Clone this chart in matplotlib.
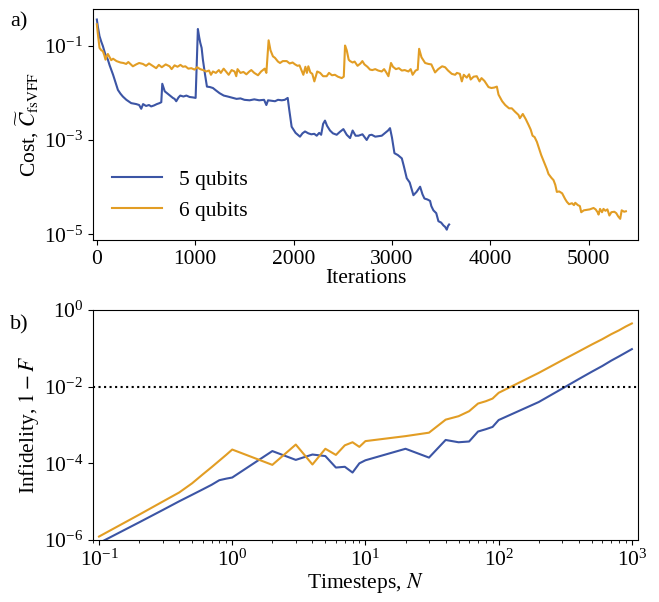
import numpy as np
import matplotlib
matplotlib.use("Agg")
import matplotlib.pyplot as plt
from matplotlib.ticker import NullLocator

plt.rcParams['font.family'] = ['Liberation Serif', 'DejaVu Serif']
plt.rcParams['mathtext.fontset'] = 'stix'
plt.rcParams['font.size'] = 15.5

BLUE = '#3C55A5'
ORANGE = '#E29D24'

# --- a) training cost vs iterations (log10 of cost) ---
iters_5q = [0, 10, 27, 45, 61, 85, 112, 130, 146, 165, 180, 200, 214, 240, 264, 300, 349, 400, 430, 451,
            470, 500, 530, 552, 580, 610, 637, 655, 665, 690, 720, 750, 773, 790, 807, 830, 848, 880, 910, 943,
            980, 1004, 1027, 1040, 1051, 1065, 1078, 1100, 1119, 1150, 1180, 1210, 1248, 1290, 1330, 1383, 1420,
            1460, 1500, 1553, 1600, 1650, 1700, 1723, 1740, 1780, 1811, 1841, 1880, 1910, 1940, 1955, 1980, 2020,
            2065, 2090, 2116, 2150, 2180, 2210, 2235, 2260, 2280, 2300, 2319, 2340, 2370, 2400, 2438, 2470, 2506,
            2540, 2574, 2600, 2630, 2659, 2700, 2743, 2770, 2794, 2830, 2860, 2896, 2930, 2960, 2980, 3000, 3025,
            3060, 3100, 3120, 3150, 3180, 3218, 3250, 3286, 3310, 3330, 3360, 3387, 3400, 3421, 3450, 3472, 3500,
            3523, 3540, 3557, 3570, 3581]
logcost_5q = [-0.45, -0.60, -0.80, -0.92, -1.01, -1.18, -1.30, -1.42, -1.51, -1.62, -1.72, -1.85, -1.94, -2.02,
              -2.08, -2.15, -2.22, -2.24, -2.26, -2.34, -2.24, -2.28, -2.26, -2.29, -2.27, -2.24, -2.22, -2.20,
              -1.81, -1.97, -2.02, -2.07, -2.11, -2.13, -2.18, -2.10, -2.06, -2.08, -2.06, -2.09, -2.10, -2.11,
              -0.65, -0.82, -0.94, -1.05, -1.30, -1.62, -1.87, -1.88, -1.90, -1.95, -2.01, -2.06, -2.08, -2.11,
              -2.13, -2.12, -2.15, -2.16, -2.14, -2.16, -2.15, -2.26, -2.16, -2.17, -2.18, -2.15, -2.16, -2.15,
              -2.11, -2.35, -2.72, -2.85, -2.93, -2.86, -2.82, -2.86, -2.88, -2.87, -2.91, -2.85, -2.89, -2.66,
              -2.59, -2.70, -2.80, -2.86, -2.89, -2.83, -2.77, -2.89, -2.96, -2.80, -2.91, -2.91, -2.88, -3.00,
              -2.90, -2.89, -2.93, -2.92, -2.91, -2.85, -2.80, -2.75, -2.95, -3.28, -3.32, -3.39, -3.55, -3.81,
              -3.90, -4.17, -4.10, -3.99, -4.15, -4.24, -4.26, -4.29, -4.40, -4.49, -4.55, -4.72, -4.75, -4.81,
              -4.84, -4.90, -4.82, -4.79]

iters_6q = [0, 10, 27, 45, 61, 75, 88, 100, 112, 130, 146, 165, 200, 240, 270, 298, 320, 345, 366, 400, 430,
            468, 500, 530, 560, 603, 630, 660, 700, 739, 760, 790, 820, 850, 875, 900, 930, 960, 993, 1020, 1050,
            1080, 1112, 1140, 1160, 1180, 1210, 1240, 1260, 1289, 1320, 1340, 1370, 1400, 1417, 1430, 1460, 1490,
            1520, 1550, 1570, 1600, 1638, 1670, 1706, 1723, 1746, 1765, 1790, 1810, 1841, 1862, 1890, 1930, 1960,
            1990, 2015, 2040, 2060, 2080, 2099, 2120, 2135, 2150, 2170, 2190, 2211, 2240, 2270, 2300, 2336, 2360,
            2390, 2420, 2450, 2489, 2510, 2523, 2540, 2560, 2574, 2600, 2620, 2650, 2680, 2699, 2720, 2750, 2777,
            2800, 2830, 2860, 2896, 2920, 2945, 2964, 2990, 3010, 3040, 3070, 3100, 3130, 3167, 3190, 3210, 3240,
            3262, 3276, 3300, 3337, 3370, 3400, 3438, 3470, 3510, 3540, 3570, 3608, 3642, 3660, 3690, 3710, 3730,
            3760, 3784, 3800, 3830, 3862, 3890, 3910, 3940, 3981, 4010, 4040, 4066, 4083, 4120, 4151, 4190, 4218,
            4250, 4286, 4300, 4330, 4360, 4388, 4410, 4429, 4450, 4473, 4490, 4517, 4540, 4558, 4575, 4591, 4620,
            4642, 4660, 4676, 4700, 4730, 4760, 4778, 4800, 4830, 4850, 4863, 4890, 4910, 4924, 4950, 4980, 5010,
            5049, 5070, 5090, 5100, 5115, 5135, 5150, 5170, 5190, 5210, 5230, 5260, 5280, 5300, 5320, 5335, 5360,
            5378]
logcost_6q = [-0.55, -0.75, -1.05, -1.10, -1.12, -1.20, -1.30, -1.22, -1.18, -1.25, -1.31, -1.28, -1.33, -1.36,
              -1.37, -1.39, -1.35, -1.40, -1.44, -1.40, -1.37, -1.39, -1.43, -1.38, -1.42, -1.48, -1.41, -1.46,
              -1.40, -1.44, -1.50, -1.42, -1.45, -1.41, -1.45, -1.44, -1.49, -1.48, -1.51, -1.46, -1.50, -1.52,
              -1.55, -1.53, -1.62, -1.55, -1.58, -1.52, -1.58, -1.49, -1.57, -1.62, -1.52, -1.55, -1.65, -1.50,
              -1.58, -1.56, -1.61, -1.55, -1.52, -1.58, -1.63, -1.55, -1.49, -1.58, -0.89, -1.10, -1.23, -1.26,
              -1.34, -1.37, -1.33, -1.33, -1.38, -1.36, -1.40, -1.43, -1.42, -1.52, -1.62, -1.45, -1.58, -1.44,
              -1.57, -1.60, -1.76, -1.55, -1.58, -1.65, -1.65, -1.58, -1.63, -1.62, -1.66, -1.69, -1.66, -1.00,
              -1.10, -1.30, -1.33, -1.36, -1.34, -1.43, -1.38, -1.33, -1.40, -1.45, -1.51, -1.52, -1.50, -1.53,
              -1.55, -1.50, -1.58, -1.65, -1.37, -1.45, -1.50, -1.48, -1.53, -1.52, -1.55, -1.50, -1.62, -1.53,
              -1.51, -1.07, -1.25, -1.37, -1.39, -1.40, -1.57, -1.50, -1.44, -1.46, -1.53, -1.60, -1.62, -1.58,
              -1.60, -1.76, -1.62, -1.68, -1.61, -1.72, -1.66, -1.65, -1.76, -1.69, -1.75, -1.88, -1.90, -1.89,
              -1.87, -2.04, -2.18, -2.26, -2.33, -2.33, -2.40, -2.47, -2.54, -2.45, -2.56, -2.68, -2.78, -2.91,
              -2.94, -3.04, -3.15, -3.32, -3.44, -3.53, -3.62, -3.72, -3.80, -3.85, -3.95, -4.10, -4.09, -4.13,
              -4.25, -4.31, -4.36, -4.34, -4.38, -4.33, -4.38, -4.40, -4.53, -4.49, -4.48, -4.47, -4.44, -4.47,
              -4.53, -4.58, -4.46, -4.53, -4.46, -4.50, -4.47, -4.60, -4.53, -4.52, -4.55, -4.62, -4.67, -4.49,
              -4.52, -4.51]

# --- b) infidelity vs number of timesteps (log10 of 1-F) ---
timesteps = [0.1, 0.2, 0.3, 0.4, 0.5, 0.6, 0.7, 0.8, 0.9, 1, 2, 3, 4, 5, 6, 7, 8, 9, 10,
             20, 30, 40, 50, 60, 70, 80, 90, 100, 200, 300, 400, 500, 600, 700, 800, 900, 1000]
loginf_5q = [-6.08, -5.54, -5.22, -4.99, -4.82, -4.68, -4.56, -4.44, -4.40, -4.37, -3.68, -3.91, -3.77, -3.81,
             -4.11, -4.09, -4.24, -4.00, -3.92, -3.62, -3.85, -3.39, -3.45, -3.43, -3.17, -3.11, -3.05, -2.87,
             -2.40, -2.05, -1.80, -1.61, -1.46, -1.32, -1.21, -1.11, -1.02]
loginf_6q = [-5.91, -5.34, -5.00, -4.76, -4.52, -4.29, -4.10, -3.93, -3.78, -3.64, -4.04, -3.51, -4.03, -3.62,
             -3.78, -3.53, -3.45, -3.57, -3.42, -3.29, -3.20, -2.86, -2.77, -2.64, -2.44, -2.38, -2.31, -2.16,
             -1.64, -1.31, -1.08, -0.90, -0.76, -0.63, -0.53, -0.43, -0.35]
threshold = 1e-2

fig = plt.figure(figsize=(6.59, 6.02), dpi=100)
ax1 = fig.add_axes([0.141, 0.601, 0.827, 0.384])
ax2 = fig.add_axes([0.141, 0.103, 0.827, 0.382])

ax1.plot(iters_5q, 10 ** np.array(logcost_5q), color=BLUE, lw=1.5, label='5 qubits')
ax1.plot(iters_6q, 10 ** np.array(logcost_6q), color=ORANGE, lw=1.5, label='6 qubits')
ax1.set_yscale('log')
ax1.set_xlim(-40, 5500)
ax1.set_yticks([1e-5, 1e-3, 1e-1])
ax1.yaxis.set_minor_locator(NullLocator())
ax1.set_xticks([0, 1000, 2000, 3000, 4000, 5000])
ax1.set_xlabel('Iterations', labelpad=0)
ax1.set_ylabel(r'Cost, $\widetilde{C}_{\mathrm{fsVFF}}$', labelpad=2)
ax1.legend(loc='lower left', frameon=False, handlelength=2.3)

ax2.plot(timesteps, 10 ** np.array(loginf_5q), color=BLUE, lw=1.5)
ax2.plot(timesteps, 10 ** np.array(loginf_6q), color=ORANGE, lw=1.5)
ax2.axhline(threshold, color='black', ls=':', lw=1.5)
ax2.set_xscale('log')
ax2.set_yscale('log')
ax2.set_xlim(0.09, 1110)
ax2.set_ylim(1e-6, 1)
ax2.set_yticks([1e-6, 1e-4, 1e-2, 1])
ax2.yaxis.set_minor_locator(NullLocator())
ax2.set_xlabel(r'Timesteps, $N$', labelpad=0)
ax2.set_ylabel(r'Infidelity, $1-F$', labelpad=2)

fig.text(0.015, 0.963, 'a)', fontsize=16, va='center')
fig.text(0.015, 0.46, 'b)', fontsize=16, va='center')

fig.savefig('out.png', dpi=100)
